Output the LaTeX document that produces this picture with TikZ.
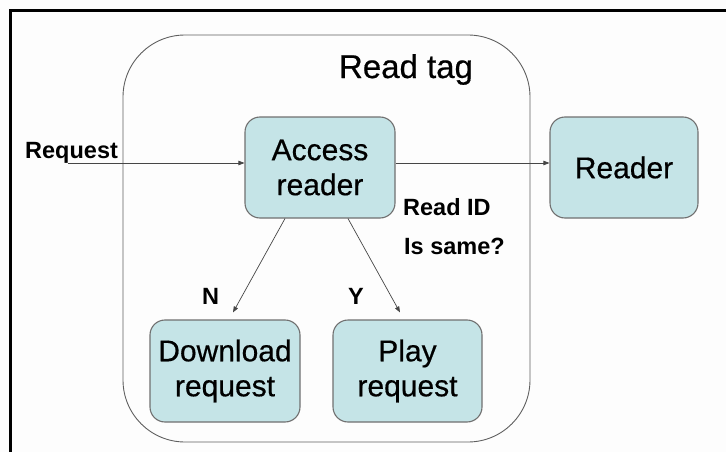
\documentclass[tikz,border=0pt]{standalone}
\usepackage{fontspec}
\setmainfont{Liberation Sans}
\newfontfamily\boxfont[FakeBold=0.5]{Liberation Sans}
\usetikzlibrary{arrows.meta}
\definecolor{boxfill}{RGB}{197,228,231}
\definecolor{boxline}{RGB}{112,112,112}
\definecolor{wireline}{RGB}{70,70,70}
\definecolor{pagebg}{RGB}{253,253,253}
\tikzset{
  stepbox/.style={draw=boxline, fill=boxfill, line width=1.1pt, rounded corners=15pt,
    align=center, inner sep=0pt, font=\boxfont\fontsize{30}{35}\selectfont},
  lbl/.style={inner sep=0pt, anchor=base west, font=\fontsize{23.5}{26}\selectfont\bfseries},
  arr/.style={draw=wireline, line width=0.7pt, -{Triangle[length=6pt,width=4.5pt]}}
}
\begin{document}
\begin{tikzpicture}[x=1pt,y=-1pt]
  % page
  \fill[pagebg] (0,0) rectangle (726,452);
  \useasboundingbox (0,0) rectangle (726,452);
  \draw[line width=2.6pt, line cap=rect] (726,10.5) -- (10.5,10.5) -- (10.5,452);

  % container for the read-tag step
  \draw[draw=boxline!85!black, line width=0.9pt, rounded corners=62pt]
    (123,35) rectangle (530,442);
  \node[inner sep=0pt, anchor=base, font=\boxfont\fontsize{33}{36}\selectfont] (title) at (406,78) {Read tag};

  % boxes
  \node[stepbox, minimum width=150pt, minimum height=101pt] (acc) at (320,167.5) {Access\\reader};
  \node[stepbox, minimum width=148pt, minimum height=101pt] (rdr) at (624,167.5) {Reader};
  \node[stepbox, minimum width=150pt, minimum height=102pt] (dl)  at (225,371) {Download\\request};
  \node[stepbox, minimum width=149pt, minimum height=102pt] (pl)  at (407.5,371) {Play\\request};

  % labels
  \node[lbl] (reqlbl) at (25,158) {Request};
  \node[lbl] (idlbl)  at (403,215) {Read ID};
  \node[lbl] (same)   at (404,254) {Is same?};
  \node[lbl] (nlbl)   at (202,304) {N};
  \node[lbl] (ylbl)   at (348,304) {Y};

  % connectors
  \coordinate (rq) at (68,163);
  \draw[arr] (rq) -- (rq -| acc.west);
  \draw[arr] (acc.east |- rq) -- (rq -| rdr.west);
  \draw[arr] ([xshift=-35pt]acc.south) -- ([xshift=8pt,yshift=7pt]dl.north);
  \draw[arr] ([xshift=28pt]acc.south) -- ([xshift=-7.5pt,yshift=7pt]pl.north);
\end{tikzpicture}
\end{document}
